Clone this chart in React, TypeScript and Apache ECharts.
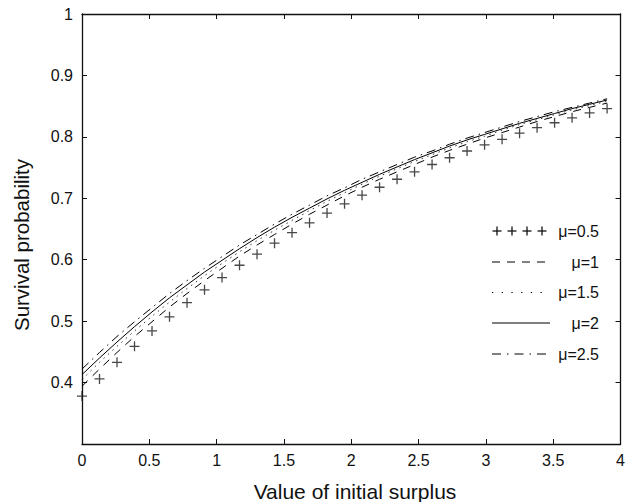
import React, { useEffect, useRef } from "react";
import * as echarts from "echarts";

const xs = [0, 0.13, 0.26, 0.39, 0.52, 0.65, 0.78, 0.91, 1.04, 1.17, 1.3, 1.43, 1.56, 1.69, 1.82, 1.95, 2.08, 2.21, 2.34, 2.47, 2.6, 2.73, 2.86, 2.99, 3.12, 3.25, 3.38, 3.51, 3.64, 3.77, 3.9];

const mu05 = [0.378, 0.406, 0.433, 0.459, 0.484, 0.507, 0.53, 0.551, 0.571, 0.591, 0.609, 0.627, 0.644, 0.66, 0.676, 0.691, 0.705, 0.718, 0.731, 0.743, 0.755, 0.766, 0.777, 0.787, 0.796, 0.806, 0.815, 0.823, 0.831, 0.839, 0.846];
const mu1 = [0.394, 0.422, 0.449, 0.475, 0.499, 0.523, 0.545, 0.566, 0.586, 0.606, 0.624, 0.641, 0.658, 0.674, 0.689, 0.704, 0.718, 0.731, 0.743, 0.755, 0.767, 0.778, 0.788, 0.798, 0.807, 0.816, 0.825, 0.833, 0.841, 0.848, 0.855];
const mu15 = [0.405, 0.433, 0.459, 0.484, 0.508, 0.531, 0.553, 0.574, 0.594, 0.613, 0.631, 0.648, 0.664, 0.68, 0.695, 0.709, 0.723, 0.736, 0.748, 0.76, 0.771, 0.782, 0.792, 0.801, 0.811, 0.82, 0.828, 0.836, 0.844, 0.851, 0.858];
const mu2 = [0.413, 0.44, 0.466, 0.491, 0.515, 0.538, 0.559, 0.58, 0.599, 0.618, 0.636, 0.653, 0.669, 0.684, 0.699, 0.713, 0.726, 0.739, 0.751, 0.763, 0.774, 0.785, 0.795, 0.804, 0.813, 0.822, 0.83, 0.838, 0.846, 0.853, 0.86];
const mu25 = [0.422, 0.449, 0.475, 0.499, 0.522, 0.545, 0.566, 0.586, 0.605, 0.624, 0.641, 0.658, 0.674, 0.689, 0.704, 0.717, 0.731, 0.743, 0.755, 0.767, 0.777, 0.788, 0.798, 0.807, 0.816, 0.825, 0.833, 0.841, 0.848, 0.855, 0.862];

const legendLabels = ["μ=0.5", "μ=1", "μ=1.5", "μ=2", "μ=2.5"];
const xTitle = "Value of initial surplus";
const yTitle = "Survival probability";

const FONT = '"Liberation Sans", Arial, Helvetica, sans-serif';
const PLUS = "path://M4.35,0h1.3v4.35h4.35v1.3h-4.35v4.35h-1.3v-4.35h-4.35v-1.3h4.35z";

const pairs = (ys: number[]) => xs.map((x, i) => [x, ys[i]]);

export default function App() {
  const ref = useRef<HTMLDivElement>(null);
  useEffect(() => {
    if (!ref.current) return;
    const chart = echarts.init(ref.current, undefined, { renderer: "svg" });

    const axisCommon = {
      type: "value" as const,
      axisLine: { show: true, onZero: false, lineStyle: { color: "#111", width: 1.3 } },
      axisTick: { show: true, inside: true, length: 5, lineStyle: { color: "#111", width: 1 } },
      splitLine: { show: false },
    };

    const legendRowsY = [231, 262, 292.5, 323, 354];
    const sx0 = 492;
    const labelRight = 599;
    const graphic: any[] = [];
    [497, 512, 527, 542].forEach((px) => {
      graphic.push({ type: "line", shape: { x1: px - 4.5, y1: legendRowsY[0], x2: px + 4.5, y2: legendRowsY[0] }, style: { stroke: "#111", lineWidth: 1.3 } });
      graphic.push({ type: "line", shape: { x1: px, y1: legendRowsY[0] - 4.5, x2: px, y2: legendRowsY[0] + 4.5 }, style: { stroke: "#111", lineWidth: 1.3 } });
    });
    const samples = [
      null,
      { x2: 545, dash: [8, 7] },
      { x2: 542, dash: [1.3, 8.4] },
      { x2: 550, dash: null },
      { x2: 546, dash: [9, 6, 1.5, 6] },
    ];
    samples.forEach((s, i) => {
      if (!s) return;
      graphic.push({
        type: "line",
        shape: { x1: sx0, y1: legendRowsY[i], x2: s.x2, y2: legendRowsY[i] },
        style: { stroke: "#000", lineWidth: 1, lineDash: s.dash || undefined },
      });
    });
    legendLabels.forEach((t, i) => {
      graphic.push({
        type: "text",
        x: labelRight,
        y: legendRowsY[i],
        style: { text: t, font: `16px ${FONT}`, fill: "#111", align: "right", verticalAlign: "middle" },
      });
    });
    graphic.push({
      type: "text",
      x: 355,
      y: 491,
      style: { text: xTitle, font: `21px ${FONT}`, fill: "#111", align: "center", verticalAlign: "middle" },
    });
    graphic.push({
      type: "text",
      x: 21,
      y: 245,
      rotation: Math.PI / 2,
      style: { text: yTitle, font: `20.5px ${FONT}`, fill: "#111", align: "center", verticalAlign: "middle" },
    });

    chart.setOption({
      animation: false,
      backgroundColor: "#fff",
      grid: { left: 82, right: 1, top: 14, bottom: 58, containLabel: false },
      xAxis: [
        {
          ...axisCommon,
          position: "bottom",
          min: 0,
          max: 4,
          interval: 0.5,
          axisLabel: { show: true, margin: 8, fontSize: 16, fontFamily: FONT, color: "#111", showMaxLabel: true, showMinLabel: true },
        },
        {
          ...axisCommon,
          position: "top",
          min: 0,
          max: 4,
          interval: 0.5,
          axisLabel: { show: false },
        },
      ],
      yAxis: [
        {
          ...axisCommon,
          position: "left",
          min: 0.3,
          max: 1,
          interval: 0.1,
          axisLabel: {
            show: true,
            margin: 9,
            fontSize: 16,
            fontFamily: FONT,
            color: "#111",
            formatter: (v: number) => (v < 0.35 ? "" : String(+v.toFixed(1))),
          },
        },
        {
          ...axisCommon,
          position: "right",
          min: 0.3,
          max: 1,
          interval: 0.1,
          axisLabel: { show: false },
        },
      ],
      series: [
        {
          name: "μ=0.5",
          type: "scatter",
          data: pairs(mu05),
          symbol: PLUS,
          symbolSize: 10,
          itemStyle: { color: "#1a1a1a" },
          silent: true,
        },
        {
          name: "μ=1",
          type: "line",
          data: pairs(mu1),
          showSymbol: false,
          symbol: "none",
          lineStyle: { color: "#000", width: 1, type: [8, 7] },
        },
        {
          name: "μ=1.5",
          type: "line",
          data: pairs(mu15),
          showSymbol: false,
          symbol: "none",
          lineStyle: { color: "#333", width: 1, type: [1.5, 4.5] },
        },
        {
          name: "μ=2",
          type: "line",
          data: pairs(mu2),
          showSymbol: false,
          symbol: "none",
          lineStyle: { color: "#000", width: 1, type: "solid" },
        },
        {
          name: "μ=2.5",
          type: "line",
          data: pairs(mu25),
          showSymbol: false,
          symbol: "none",
          lineStyle: { color: "#000", width: 1, type: [9, 5, 1.5, 5] },
        },
      ],
      graphic,
    });
    return () => chart.dispose();
  }, []);

  return (
    <div
      ref={ref}
      style={{ position: "fixed", left: 0, top: 0, width: 628, height: 502, background: "#fff" }}
    />
  );
}
